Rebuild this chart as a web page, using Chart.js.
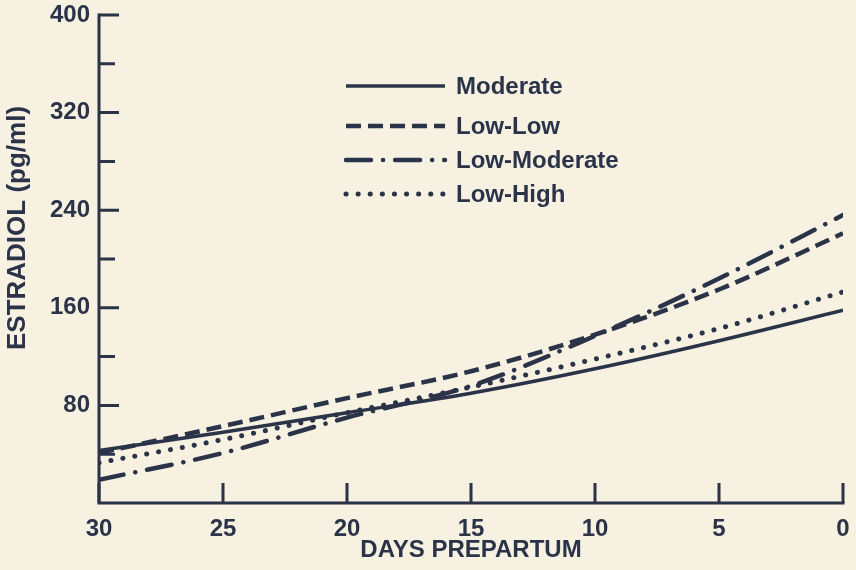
<!DOCTYPE html>
<html lang="en">
<head>
    <meta charset="UTF-8">
    <title>Estradiol prepartum</title>
    <script src="https://cdn.jsdelivr.net/npm/chart.js"></script>
    <style>
        html, body {
            margin: 0;
            padding: 0;
            background: #f6f1e1;
        }
        .chart-box {
            width: 856px;
            height: 570px;
        }
    </style>
</head>
<body>
    <div class="chart-box">
        <canvas id="estradiolChart" width="856" height="570"></canvas>
    </div>

    <script>
        // days prepartum and estradiol (pg/ml) per group
        const days = [30, 25, 20, 15, 10, 5, 0];
        const moderate = [43, 58, 74, 90, 110, 133, 158];
        const lowLow = [41, 63, 86, 108, 138, 175, 221];
        const lowModerate = [19, 41, 70, 96, 137, 184, 236];
        const lowHigh = [33, 52, 74, 95, 118, 143, 173];

        const groupNames = ['Moderate', 'Low-Low', 'Low-Moderate', 'Low-High'];
        const yTicks = [80, 160, 240, 320, 400];
        const yMinorTicks = [40, 120, 200, 280, 360];
        const xTicks = [30, 25, 20, 15, 10, 5, 0];

        const ink = '#2b3349';
        const fontFamily = "'Liberation Sans', Arial, Helvetica, sans-serif";

        function toPoints(values) {
            return days.map((d, i) => ({ x: d, y: values[i] }));
        }

        // line styles
        const styles = [
            { width: 3.5, dash: [], cap: 'butt' },
            { width: 4.5, dash: [15, 7], cap: 'butt' },
            { width: 4.5, dash: [25, 12, 0.1, 12], cap: 'round' },
            { width: 5, dash: [0.1, 12], cap: 'round' }
        ];

        const series = [moderate, lowLow, lowModerate, lowHigh];

        // axis lines, inward ticks, y title and the legend
        const decorations = {
            id: 'decorations',
            afterDraw(chart) {
                const ctx = chart.ctx;
                const xs = chart.scales.x;
                const ys = chart.scales.y;
                const left = xs.getPixelForValue(30);
                const right = xs.getPixelForValue(0);
                const bottom = ys.getPixelForValue(0);
                const top = ys.getPixelForValue(400);

                ctx.save();
                ctx.strokeStyle = ink;
                ctx.lineWidth = 3;
                ctx.lineCap = 'butt';
                ctx.beginPath();
                ctx.moveTo(left, top - 1.5);
                ctx.lineTo(left, bottom);
                ctx.lineTo(right + 1.5, bottom);
                ctx.stroke();

                ctx.beginPath();
                yTicks.forEach(v => {
                    const y = ys.getPixelForValue(v);
                    ctx.moveTo(left, y);
                    ctx.lineTo(left + 20, y);
                });
                yMinorTicks.forEach(v => {
                    const y = ys.getPixelForValue(v);
                    ctx.moveTo(left, y);
                    ctx.lineTo(left + 16, y);
                });
                xTicks.forEach(d => {
                    const x = xs.getPixelForValue(d);
                    ctx.moveTo(x, bottom);
                    ctx.lineTo(x, bottom - 20);
                });
                ctx.stroke();

                // y title
                ctx.fillStyle = ink;
                ctx.font = 'bold 26px ' + fontFamily;
                ctx.textAlign = 'center';
                ctx.textBaseline = 'middle';
                ctx.translate(18, 228);
                ctx.rotate(-Math.PI / 2);
                ctx.fillText('ESTRADIOL (pg/ml)', 0, 0);
                ctx.restore();

                // legend
                const rows = [86, 126, 160, 194];
                ctx.save();
                ctx.font = 'bold 24px ' + fontFamily;
                ctx.textAlign = 'left';
                ctx.textBaseline = 'middle';
                chart.data.datasets.forEach((ds, i) => {
                    ctx.strokeStyle = ink;
                    ctx.lineWidth = ds.borderWidth;
                    ctx.lineCap = ds.borderCapStyle;
                    ctx.setLineDash(ds.borderDash);
                    ctx.beginPath();
                    ctx.moveTo(346, rows[i]);
                    ctx.lineTo(445, rows[i]);
                    ctx.stroke();
                    ctx.setLineDash([]);
                    ctx.fillStyle = ink;
                    ctx.fillText(ds.label, 456, rows[i] + 1);
                });
                ctx.restore();
            }
        };

        new Chart(document.getElementById('estradiolChart'), {
            type: 'line',
            data: {
                datasets: series.map((values, i) => ({
                    label: groupNames[i],
                    data: toPoints(values),
                    borderColor: ink,
                    borderWidth: styles[i].width,
                    borderDash: styles[i].dash,
                    borderCapStyle: styles[i].cap,
                    pointRadius: 0,
                    fill: false,
                    tension: 0.4,
                    cubicInterpolationMode: 'monotone'
                }))
            },
            options: {
                responsive: false,
                animation: false,
                layout: {
                    padding: { top: 15, right: 13, left: 0, bottom: 0 }
                },
                plugins: {
                    legend: { display: false },
                    tooltip: { enabled: false }
                },
                scales: {
                    x: {
                        type: 'linear',
                        reverse: true,
                        min: 0,
                        max: 30,
                        grid: { display: false, drawTicks: false },
                        border: { display: false },
                        afterFit(scale) {
                            scale.height = 67;
                            scale.paddingLeft = 0;
                            scale.paddingRight = 0;
                        },
                        afterBuildTicks(scale) {
                            scale.ticks = xTicks.map(v => ({ value: v }));
                        },
                        ticks: {
                            color: ink,
                            padding: 12,
                            maxRotation: 0,
                            font: { family: fontFamily, size: 24, weight: 'bold' }
                        },
                        title: {
                            display: true,
                            text: 'DAYS PREPARTUM',
                            color: ink,
                            padding: { top: 0, bottom: 5 },
                            font: { family: fontFamily, size: 24, weight: 'bold' }
                        }
                    },
                    y: {
                        min: 0,
                        max: 400,
                        grid: { display: false, drawTicks: false },
                        border: { display: false },
                        afterFit(scale) {
                            scale.width = 99;
                            scale.paddingTop = 0;
                            scale.paddingBottom = 0;
                        },
                        afterBuildTicks(scale) {
                            scale.ticks = [0].concat(yTicks).map(v => ({ value: v }));
                        },
                        ticks: {
                            color: ink,
                            padding: 9,
                            callback: v => (v === 0 ? '' : v),
                            font: { family: fontFamily, size: 24, weight: 'bold' }
                        }
                    }
                }
            },
            plugins: [decorations]
        });
    </script>
</body>
</html>
